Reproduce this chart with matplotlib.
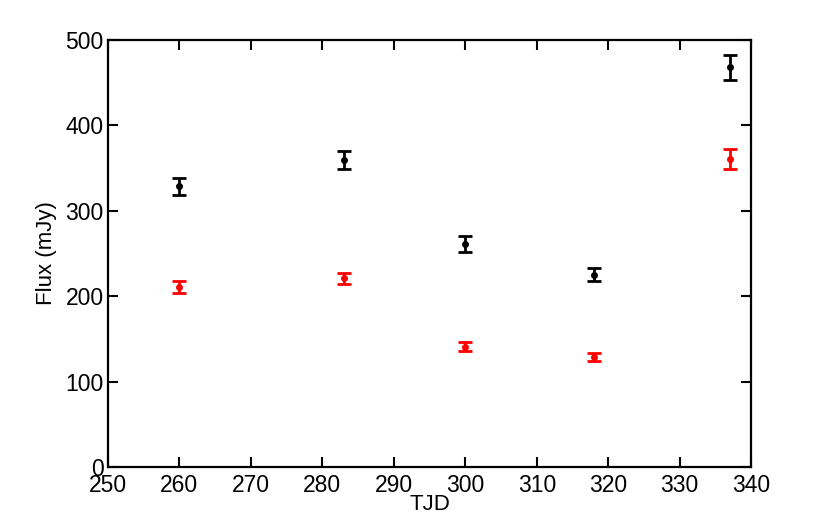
import matplotlib
matplotlib.use("Agg")
import matplotlib.pyplot as plt

plt.rcParams["font.family"] = ["Liberation Sans", "DejaVu Sans"]

tjd = [260, 283, 300, 318, 337]
flux_black = [329, 359, 261, 225, 468]
err_black = [10, 10.5, 9, 7.5, 14.5]
flux_red = [211, 221, 141, 129, 361]
err_red = [7, 6.5, 5, 4.5, 11.5]

fig = plt.figure(figsize=(8.3, 5.27), dpi=100)
ax = fig.add_axes([0.130, 0.1139, 0.775, 0.8101])

ax.errorbar(tjd, flux_black, yerr=err_black, fmt="o", color="black", markersize=4,
            elinewidth=2, capsize=5, capthick=2)
ax.errorbar(tjd, flux_red, yerr=err_red, fmt="o", color="red", markersize=4,
            elinewidth=2, capsize=5, capthick=2)

ax.set_xlim(250, 340)
ax.set_ylim(0, 500)
ax.set_xticks(range(250, 341, 10))
ax.set_yticks(range(0, 501, 100))
ax.set_xlabel("TJD", fontsize=16, labelpad=-2)
ax.set_ylabel("Flux (mJy)", fontsize=16, labelpad=6)
ax.tick_params(direction="in", length=7, width=1.5, labelsize=16.5,
               top=True, right=True, pad=3)
ax.tick_params(axis="x", pad=5)
for s in ax.spines.values():
    s.set_linewidth(1.6)

fig.savefig("out.png", dpi=100)
